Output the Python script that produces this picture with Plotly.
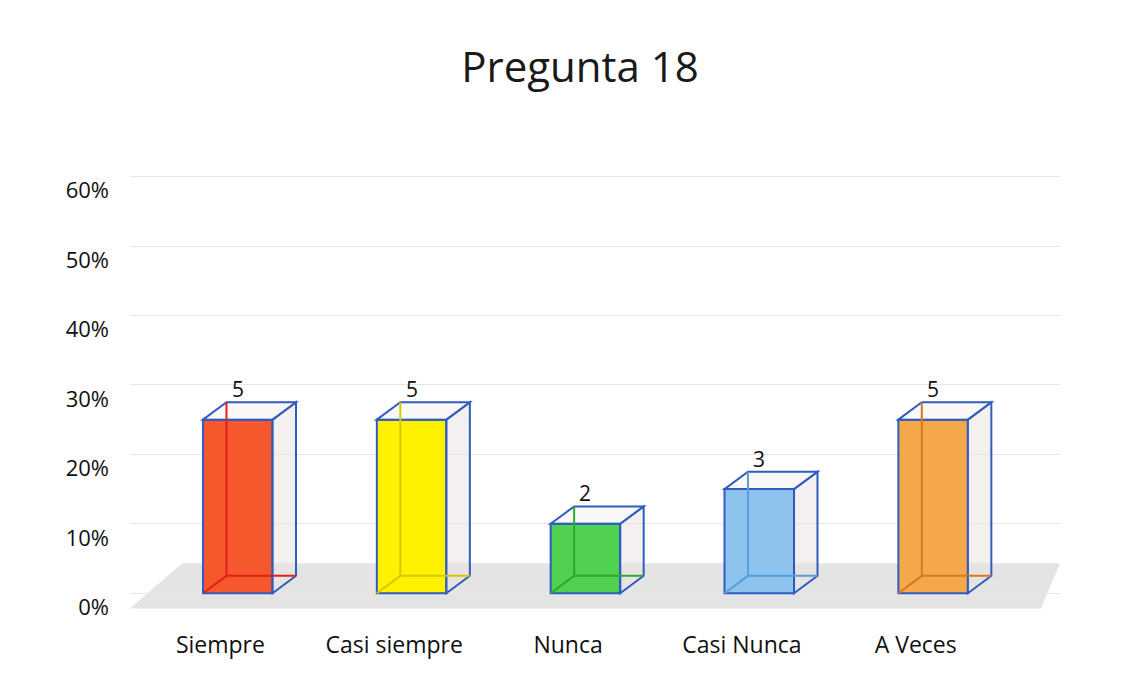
import plotly.graph_objects as go

categories = ["Siempre", "Casi siempre", "Nunca", "Casi Nunca", "A Veces"]
counts = [5, 5, 2, 3, 5]
percent = [0.25, 0.25, 0.10, 0.15, 0.25]
colors = ["#f4582c", "#fff200", "#4fd14f", "#8ec3ee", "#f5a84a"]
hidden = ["#e0201a", "#d9c800", "#2fa82f", "#5a9fd8", "#d77a1a"]
edge = "#2f5cc0"
tick_vals = [0, 0.1, 0.2, 0.3, 0.4, 0.5, 0.6]
tick_text = ["0%", "10%", "20%", "30%", "40%", "50%", "60%"]

FONT = "Open Sans"
xs = list(range(len(categories)))
left_off, width = -0.1, 0.4
dx, dy = 0.135, 0.025

fig = go.Figure()
fig.add_trace(go.Bar(
    x=xs, y=percent, width=width, offset=left_off,
    marker=dict(color=colors, line=dict(color=edge, width=2)),
    hoverinfo="skip", showlegend=False,
))

shapes = []
# floor
shapes.append(dict(type="path", xref="x", yref="y", layer="below",
                   path="M -0.52,-0.022 L 4.72,-0.022 L 4.83,0.043 L -0.22,0.043 Z",
                   fillcolor="#e4e4e4", line=dict(width=0)))
annotations = []
for x, v, c, hc, n in zip(xs, percent, colors, hidden, counts):
    L = x + left_off
    R = L + width
    # side face
    shapes.append(dict(type="path", xref="x", yref="y",
                       path=f"M {R},0 L {R+dx},{dy} L {R+dx},{v+dy} L {R},{v} Z",
                       fillcolor="rgba(235,225,225,0.5)", line=dict(color=edge, width=2)))
    # top face
    shapes.append(dict(type="path", xref="x", yref="y",
                       path=f"M {L},{v} L {L+dx},{v+dy} L {R+dx},{v+dy} L {R},{v} Z",
                       fillcolor="rgba(245,240,240,0.5)", line=dict(color=edge, width=2)))
    # hidden back edges
    shapes.append(dict(type="path", xref="x", yref="y",
                       path=f"M {L},0 L {L+dx},{dy} L {R+dx},{dy} M {L+dx},{dy} L {L+dx},{v+dy}",
                       line=dict(color=hc, width=2)))
    annotations.append(dict(x=x + 0.1, y=v + dy, text=str(n), showarrow=False,
                            xref="x", yref="y", yanchor="bottom", yshift=-3,
                            font=dict(size=21, color="#111", family=FONT)))

fig.update_layout(
    width=1126, height=682,
    margin=dict(l=122, r=74, t=127, b=69),
    paper_bgcolor="white", plot_bgcolor="white",
    title=dict(text="Pregunta 18", x=0.508, xanchor="center", y=0.913, yanchor="middle",
               font=dict(size=42, color="#1a1a1a", family=FONT)),
    shapes=shapes, annotations=annotations,
)
fig.update_xaxes(range=[-0.52, 4.83], tickvals=xs, ticktext=categories,
                 showgrid=False, zeroline=False, showline=False, ticks="",
                 ticklabelstandoff=8,
                 tickfont=dict(size=23, color="#111", family=FONT))
fig.update_yaxes(range=[-0.04, 0.66], tickvals=tick_vals, ticktext=tick_text,
                 showgrid=True, gridcolor="#e6e6e6", gridwidth=1, zeroline=False,
                 showline=False, ticks="", ticklabelstandoff=20, ticklabelshift=14,
                 tickfont=dict(size=22, color="#111", family=FONT))

fig.write_html("out.html")
